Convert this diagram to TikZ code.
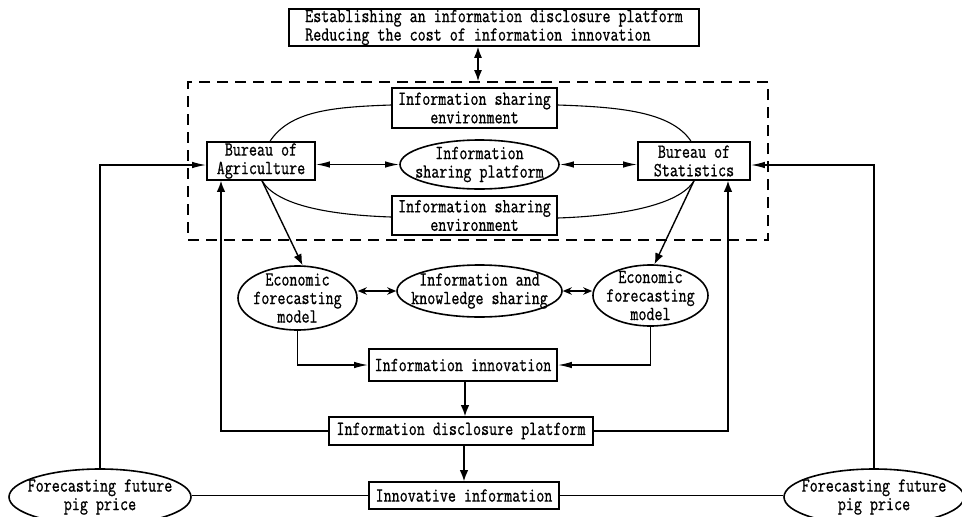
\documentclass[tikz,border=0pt]{standalone}
\usepackage{fontspec}
\setmainfont{Latin Modern Mono}[FakeStretch=0.78, FakeBold=0.8]
\usetikzlibrary{arrows.meta,shapes.geometric}
\begin{document}
\begin{tikzpicture}[x=1pt,y=-1pt,
  font=\fontsize{20}{18.5}\selectfont,
  box/.style={draw, line width=1.6pt, inner sep=0pt, align=center},
  oval/.style={draw, ellipse, line width=1.6pt, inner sep=0pt},
  conn/.style={line width=1.4pt},
  thin conn/.style={line width=1.1pt},
  arr/.style={conn, -{Latex[length=14pt,width=6.5pt]}},
  varr/.style={conn, -{Latex[length=11pt,width=8.5pt]}},
  darr/.style={conn, {Latex[length=14pt,width=6.5pt]}-{Latex[length=14pt,width=6.5pt]}},
  vdarr/.style={conn, {Latex[length=11pt,width=8pt]}-{Latex[length=11pt,width=8pt]}},
  sdarr/.style={conn, {Stealth[length=9pt,width=7.5pt]}-{Stealth[length=9pt,width=7.5pt]}},
  dashbox/.style={draw, line width=1.8pt, dash pattern=on 11pt off 7pt, inner sep=0pt}
]
\fill[white] (0,0) rectangle (962,517);
\useasboundingbox (0,0) rectangle (962,517);

\node[box, align=left, minimum width=410, minimum height=37] (top) at (494,27.5)
  {Establishing an information disclosure platform\\Reducing the cost of information innovation};
\node[dashbox, minimum width=580, minimum height=158] (dash) at (478,161) {};
\node[box, minimum width=165, minimum height=40] (envT) at (474.5,108) {Information sharing\\environment};
\node[box, minimum width=165, minimum height=39] (envB) at (474.5,215.5) {Information sharing\\environment};
\node[box, minimum width=108, minimum height=38] (agri) at (261,161) {Bureau of\\Agriculture};
\node[box, minimum width=112, minimum height=38] (stat) at (694,161) {Bureau of\\Statistics};
\node[oval, minimum width=159, minimum height=49, label={[align=center]center:Information\\sharing platform}] (plat) at (479.5,164.5) {};
\node[oval, minimum width=119, minimum height=64, label={[align=center]center:Economic\\forecasting\\model}] (econL) at (297.5,298) {};
\node[oval, minimum width=165, minimum height=52, label={[align=center]center:Information and\\knowledge sharing}] (know) at (479.5,291) {};
\node[oval, minimum width=115, minimum height=61, label={[align=center]center:Economic\\forecasting\\model}] (econR) at (650.5,295.5) {};
\node[box, minimum width=188, minimum height=32] (innov) at (463,365) {Information innovation};
\node[box, minimum width=264, minimum height=28] (discl) at (461,431) {Information disclosure platform};
\node[box, minimum width=190, minimum height=27] (innovI) at (464,495.5) {Innovative information};
\node[oval, minimum width=182, minimum height=56, label={[align=center]center:Forecasting future\\pig price}] (fcL) at (100,497) {};
\node[oval, minimum width=180, minimum height=56, label={[align=center]center:Forecasting future\\pig price}] (fcR) at (874,497) {};

% top connector
\draw[vdarr] (dash.north) -- (dash.north |- top.south);
% sharing environment curves
\draw[thin conn] ([xshift=9pt]agri.north) .. controls +(20,-30) and +(-60,2) .. ([yshift=3pt]envT.west);
\draw[thin conn] ([yshift=3pt]envT.east) .. controls +(60,2) and +(-20,-30) .. ([xshift=-3pt]stat.north);
\draw[thin conn] ([xshift=1pt]agri.south) .. controls +(15,25) and +(-60,-2) .. ([yshift=-1.5pt]envB.west);
\draw[thin conn] ([yshift=-2.5pt]envB.east) .. controls +(60,-2) and +(-15,25) .. (stat.south);
% platform arrows
\draw[darr] (plat.west -| agri.east) -- (plat.west);
\draw[darr] (plat.east) -- (plat.east -| stat.west);
% feedback from forecasts
\draw[arr] (fcL.north) |- ([yshift=-4pt]agri.west);
\draw[arr] (fcR.north) |- ([yshift=-4pt]stat.east);
% bureaus to models
\draw[varr] ([xshift=1pt]agri.south) -- ([xshift=5pt]econL.north);
\draw[varr] (stat.south) -- ([xshift=4pt]econR.north);
% model and knowledge sharing
\draw[sdarr] (econL.east |- know.west) -- (know.west);
\draw[sdarr] (know.east) -- (know.east -| econR.west);
% models to innovation
\draw[arr] (econL.south) |- (innov.west);
\draw[arr] (econR.south) |- (innov.east);
\draw[varr] ([xshift=2pt]innov.south) -- ([xshift=2pt]innov.south |- discl.north);
\draw[varr] (discl.south -| innovI.north) -- (innovI.north);
% disclosure back to bureaus
\draw[varr] (discl.west) -| ([xshift=-40pt]agri.south);
\draw[varr] (discl.east) -| ([xshift=34pt]stat.south);
% innovative information to forecasts
\draw[conn] (fcL.east |- innovI.west) -- (innovI.west);
\draw[conn] (innovI.east) -- (innovI.east -| fcR.west);
\end{tikzpicture}
\end{document}
